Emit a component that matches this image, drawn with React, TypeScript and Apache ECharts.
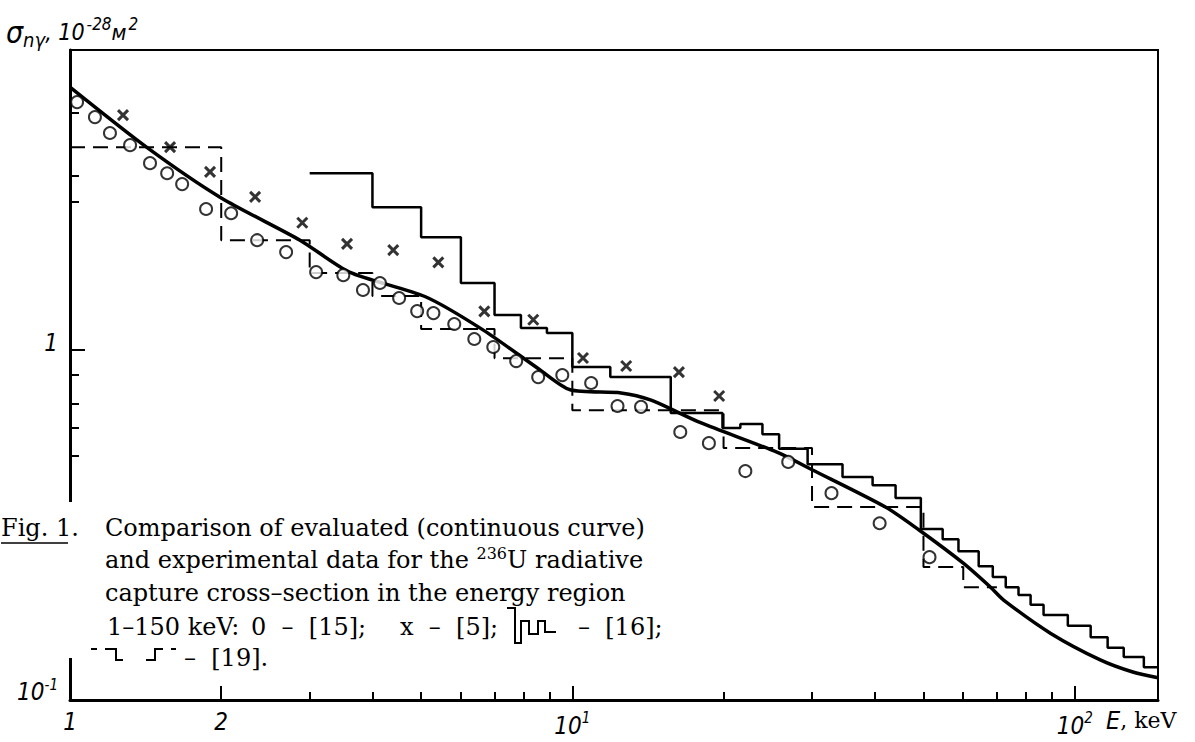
import React, { useEffect, useRef } from "react";
import * as echarts from "echarts";

// ---- axis extents ----
const X_MIN = 1;
const X_MAX = 146.5;
const Y_MIN = 0.1;
const Y_MAX = 7.2;

// ---- evaluated curve (continuous) ----
const evalE = [1.0, 1.42, 2.0, 2.87, 3.6, 5.1, 6.65, 8.6, 9.9, 12.5, 14.3, 18, 25.6, 30, 42, 49, 60, 68, 72.2, 89.6, 112.7, 131, 146.5];
const evalSigma = [5.64, 3.8, 2.72, 2.06, 1.67, 1.42, 1.14, 0.88, 0.77, 0.754, 0.72, 0.62, 0.51, 0.455, 0.356, 0.306, 0.246, 0.21, 0.193, 0.155, 0.13, 0.12, 0.1157];

// ---- [15] open circles ----
const exp15E = [1.033, 1.121, 1.201, 1.317, 1.443, 1.561, 1.672, 1.866, 2.093, 2.358, 2.693, 3.09, 3.5, 3.83, 4.14, 4.52, 4.91, 5.29, 5.82, 6.38, 6.96, 7.73, 8.55, 9.55, 10.9, 12.3, 13.7, 16.4, 18.7, 22.1, 26.9, 32.8, 40.9, 51.4];
const exp15Sigma = [5.11, 4.63, 4.17, 3.85, 3.42, 3.2, 2.98, 2.53, 2.46, 2.06, 1.905, 1.67, 1.637, 1.484, 1.554, 1.408, 1.292, 1.275, 1.187, 1.075, 1.02, 0.93, 0.837, 0.848, 0.805, 0.692, 0.688, 0.583, 0.542, 0.451, 0.479, 0.39, 0.32, 0.256];

// ---- [5] crosses ----
const exp5E = [1.275, 1.582, 1.9, 2.336, 2.9, 3.56, 4.4, 5.41, 6.68, 8.36, 10.5, 12.8, 16.3, 19.6];
const exp5Sigma = [4.69, 3.8, 3.23, 2.74, 2.31, 2.01, 1.93, 1.78, 1.29, 1.22, 0.949, 0.9, 0.865, 0.739];

// ---- [16] solid histogram: bin edges and values ----
const h16Edges = [3.0, 4.0, 5.0, 6.0, 7.0, 7.9, 8.9, 10, 11.9, 15.7, 19.9, 21.6, 23.9, 25.8, 29.4, 34.5, 39.6, 44.0, 49.4, 54.6, 58.7, 64.4, 68.7, 72.9, 77.3, 81.7, 86.7, 96.9, 107.6, 116.3, 125.2, 137.3, 146.5];
const h16Sigma = [3.2, 2.56, 2.1, 1.554, 1.259, 1.156, 1.118, 0.894, 0.837, 0.661, 0.599, 0.615, 0.575, 0.522, 0.472, 0.434, 0.411, 0.378, 0.308, 0.288, 0.266, 0.241, 0.2246, 0.21, 0.1995, 0.187, 0.175, 0.163, 0.151, 0.141, 0.1327, 0.124];

// ---- [19] dashed histogram ----
const h19Edges = [1, 2, 3, 4, 5, 7, 10, 20, 30, 50, 60, 70];
const h19Sigma = [3.8, 2.06, 1.66, 1.427, 1.148, 0.948, 0.673, 0.525, 0.356, 0.24, 0.21];

// ---- ticks & labels ----
const xTickShort = [3, 4, 5, 6, 7, 8, 9, 20, 30, 40, 50, 60, 70, 80, 90];
const xTickLong = [2, 10, 100];
const xLabelValues = [1, 2, 10, 100];
const yTickShort = [0.5, 0.6, 0.7, 0.85, 2.65, 3.15, 4.75];
const yTickLong = [1];
const yLabelValues = [0.1, 1];

const AXIS_FONT = "'Liberation Sans Narrow', 'DejaVu Sans Condensed', 'DejaVu Sans', sans-serif";
const CAP_FONT = "'DejaVu Serif', serif";

const lg = (v: number) => Math.log10(v);
const pairs = (xs: number[], ys: number[]) => xs.map((x, i) => [x, ys[i]]);
const stepData = (edges: number[], vals: number[]) =>
  edges.map((e, i) => [e, vals[Math.min(i, vals.length - 1)]]);

const xLabelRich = {
  n: { fontFamily: AXIS_FONT, fontStyle: "italic", fontSize: 24, color: "#000" },
  s: { fontFamily: AXIS_FONT, fontStyle: "italic", fontSize: 15, color: "#000", padding: [0, 0, 16, 0] },
};
const yLabelRich = {
  n: { fontFamily: AXIS_FONT, fontStyle: "italic", fontSize: 24, color: "#000", padding: [0, 0, 16, 0] },
  s: { fontFamily: AXIS_FONT, fontStyle: "italic", fontSize: 15, color: "#000", padding: [0, 0, 30, 0] },
  m: { fontFamily: AXIS_FONT, fontStyle: "italic", fontSize: 24, color: "#000", padding: [0, 0, 14, 0] },
};

function buildOption() {
  const tickStyle = { color: "#000", width: 2 };
  const xVal = (extra: any) => ({
    type: "value",
    min: 0,
    max: lg(X_MAX),
    position: "bottom",
    axisLine: { show: false, onZero: false },
    splitLine: { show: false },
    ...extra,
  });
  const yVal = (extra: any) => ({
    type: "value",
    min: -1,
    max: lg(Y_MAX),
    position: "left",
    axisLine: { show: false, onZero: false },
    splitLine: { show: false },
    ...extra,
  });
  const capText = (x: number, y: number, text: string, rich?: any) => ({
    type: "text",
    x,
    y,
    z: 101,
    style: {
      text,
      fill: "#000",
      font: `24px ${CAP_FONT}`,
      verticalAlign: "middle",
      ...(rich ? { rich } : {}),
    },
  });
  return {
    animation: false,
    backgroundColor: "#fff",
    grid: {
      left: 70,
      top: 50,
      width: 1088,
      height: 650,
      show: true,
      borderColor: "#000",
      borderWidth: 2,
      backgroundColor: "transparent",
    },
    xAxis: [
      {
        type: "log",
        logBase: 10,
        min: X_MIN,
        max: X_MAX,
        axisLine: { show: true, onZero: false, lineStyle: { color: "#000", width: 3 } },
        axisTick: { show: false },
        axisLabel: { show: false },
        splitLine: { show: false },
      },
      xVal({
        axisTick: { show: true, inside: true, length: 8, lineStyle: tickStyle, customValues: xTickShort.map(lg) },
        axisLabel: {
          show: true,
          margin: 10,
          customValues: xLabelValues.map(lg),
          formatter: (v: number) => {
            const e = Math.round(Math.pow(10, v));
            if (e === 10) return "{n|10}{s|1}";
            if (e === 100) return "{n|10}{s|2}";
            return `{n|${e}}`;
          },
          rich: xLabelRich,
        },
      }),
      xVal({
        axisTick: { show: true, inside: true, length: 14, lineStyle: tickStyle, customValues: xTickLong.map(lg) },
        axisLabel: { show: false },
      }),
    ],
    yAxis: [
      {
        type: "log",
        logBase: 10,
        min: Y_MIN,
        max: Y_MAX,
        axisLine: { show: true, onZero: false, lineStyle: { color: "#000", width: 3 } },
        axisTick: { show: false },
        axisLabel: { show: false },
        splitLine: { show: false },
      },
      yVal({
        axisTick: { show: true, inside: true, length: 9, lineStyle: tickStyle, customValues: yTickShort.map(lg) },
        axisLabel: {
          show: true,
          margin: 12,
          customValues: yLabelValues.map(lg),
          formatter: (v: number) => {
            const e = Math.pow(10, v);
            if (e < 0.5) return "{n|10}{s|-1}";
            return "{m|1}";
          },
          rich: yLabelRich,
        },
      }),
      yVal({
        axisTick: { show: true, inside: true, length: 15, lineStyle: tickStyle, customValues: yTickLong.map(lg) },
        axisLabel: { show: false },
      }),
    ],
    series: [
      {
        name: "[19]",
        type: "line",
        xAxisIndex: 0,
        yAxisIndex: 0,
        step: "end",
        symbol: "none",
        data: stepData(h19Edges, h19Sigma),
        lineStyle: { color: "#000", width: 2, type: [15, 8] },
        z: 2,
      },
      {
        name: "[16]",
        type: "line",
        xAxisIndex: 0,
        yAxisIndex: 0,
        step: "end",
        symbol: "none",
        data: stepData(h16Edges, h16Sigma),
        lineStyle: { color: "#000", width: 2.5 },
        z: 3,
      },
      {
        name: "evaluated",
        type: "line",
        xAxisIndex: 0,
        yAxisIndex: 0,
        smooth: 0.25,
        symbol: "none",
        data: pairs(evalE, evalSigma),
        lineStyle: { color: "#000", width: 3.5 },
        z: 4,
      },
      {
        name: "[15]",
        type: "scatter",
        xAxisIndex: 0,
        yAxisIndex: 0,
        symbol: "emptyCircle",
        symbolSize: 12,
        data: pairs(exp15E, exp15Sigma),
        itemStyle: { color: "#000", borderColor: "#000", borderWidth: 2.2 },
        z: 5,
      },
      {
        name: "[5]",
        type: "scatter",
        xAxisIndex: 0,
        yAxisIndex: 0,
        symbol: "path://M0 0 L10 10 M10 0 L0 10",
        symbolSize: 10,
        data: pairs(exp5E, exp5Sigma),
        itemStyle: { color: "#000", borderColor: "#000", borderWidth: 3 },
        z: 5,
      },
    ],
    graphic: {
      elements: [
        { type: "rect", z: 100, shape: { x: 58, y: 502, width: 24, height: 156 }, style: { fill: "#fff" } },
        {
          type: "text",
          x: 6,
          y: 32,
          z: 101,
          style: {
            text: "{a|σ}{b|nγ}{c|, 10}{d|-28}{e|м}{d|2}",
            fill: "#000",
            verticalAlign: "middle",
            rich: {
              a: { fontFamily: AXIS_FONT, fontStyle: "italic", fontSize: 30 },
              b: { fontFamily: AXIS_FONT, fontStyle: "italic", fontSize: 20, padding: [16, 0, 0, 0] },
              c: { fontFamily: AXIS_FONT, fontStyle: "italic", fontSize: 23 },
              d: { fontFamily: AXIS_FONT, fontStyle: "italic", fontSize: 17, padding: [0, 0, 16, 2] },
              e: { fontFamily: AXIS_FONT, fontStyle: "italic", fontSize: 22 },
            },
          },
        },
        // caption
        capText(1, 528, "Fig. 1."),
        { type: "line", z: 101, shape: { x1: 1, y1: 543, x2: 68, y2: 543 }, style: { stroke: "#000", lineWidth: 1.5 } },
        capText(105, 528, "Comparison of evaluated (continuous curve)"),
        capText(105, 560, "{t|and experimental data for the }{u|236}{t|U radiative}", {
          t: { fontFamily: CAP_FONT, fontSize: 24 },
          u: { fontFamily: CAP_FONT, fontSize: 16, padding: [0, 0, 14, 0] },
        }),
        capText(105, 593, "capture cross–section in the energy region"),
        capText(107, 627, "1–150 keV:"),
        capText(251, 627, "0  –  [15];"),
        capText(400, 627, "x  –  [5];"),
        {
          type: "polyline",
          z: 101,
          shape: {
            points: [[507, 608], [515, 608], [515, 643], [521, 643], [521, 621], [529, 621], [529, 634], [538, 634], [538, 621], [545, 621], [545, 632], [556, 632]],
          },
          style: { stroke: "#000", lineWidth: 2, fill: null },
        },
        capText(578, 627, "–  [16];"),
        { type: "line", z: 101, shape: { x1: 91, y1: 649, x2: 97, y2: 649 }, style: { stroke: "#000", lineWidth: 2 } },
        { type: "polyline", z: 101, shape: { points: [[105, 649], [116, 649], [116, 660], [123, 660]] }, style: { stroke: "#000", lineWidth: 2, fill: null } },
        { type: "polyline", z: 101, shape: { points: [[146, 660], [155, 660], [155, 649], [163, 649]] }, style: { stroke: "#000", lineWidth: 2, fill: null } },
        { type: "line", z: 101, shape: { x1: 171, y1: 649, x2: 176, y2: 649 }, style: { stroke: "#000", lineWidth: 2 } },
        capText(184, 658, "–  [19]."),
        // axis name
        {
          type: "text",
          x: 1106,
          y: 720,
          z: 101,
          style: {
            text: "{e|E}{k|, keV}",
            fill: "#000",
            verticalAlign: "middle",
            rich: {
              e: { fontFamily: AXIS_FONT, fontStyle: "italic", fontSize: 25 },
              k: { fontFamily: CAP_FONT, fontSize: 22 },
            },
          },
        },
      ],
    },
  };
}

export default function App() {
  const ref = useRef<HTMLDivElement>(null);
  useEffect(() => {
    if (!ref.current) return;
    const chart = echarts.init(ref.current, undefined, { renderer: "svg" });
    chart.setOption(buildOption() as any);
    return () => chart.dispose();
  }, []);
  return (
    <div
      ref={ref}
      style={{ position: "fixed", left: 0, top: 0, width: 1195, height: 742, background: "#fff" }}
    />
  );
}
